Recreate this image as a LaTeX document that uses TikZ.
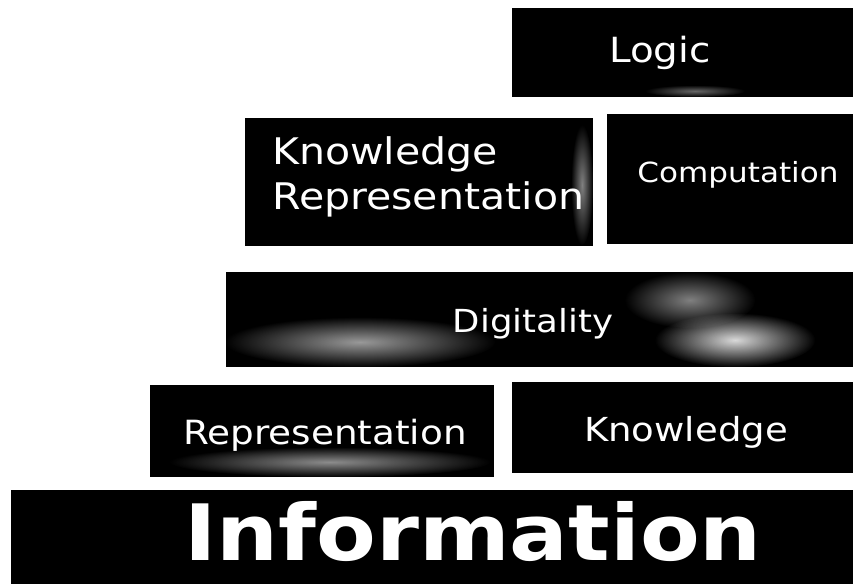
\documentclass[tikz,border=0pt]{standalone}
\usepackage{fontspec}
\setmainfont{DejaVu Sans}
\usepackage{graphicx}
\usetikzlibrary{fadings}
\tikzfading[name=haze, inner color=transparent!0, outer color=transparent!100]
\newcommand{\widen}[1]{\scalebox{1.12}[1]{#1}}
\begin{document}
\begin{tikzpicture}[x=0.75pt,y=-0.75pt,
    box/.style={fill=black},
    lbl/.style={text=white, inner sep=0pt, anchor=base},
    speck/.style={fill=white, path fading=haze}]
    \useasboundingbox[fill=white] (0,0) rectangle (853,584);

    % top row
    \fill[box] (512,8) rectangle (853,97);
    \fill[speck, opacity=0.4] (695,91) ellipse [x radius=50, y radius=6];
    \node[lbl, font=\fontsize{26}{31}\selectfont] (logic) at (660,63) {\widen{Logic}};

    % second row
    \fill[box] (245,118) rectangle (593,246);
    \fill[speck, opacity=0.5] (582,185) ellipse [x radius=11, y radius=60];
    \node[lbl, anchor=base west, font=\fontsize{27.5}{33.75}\selectfont] (knowrep) at (272,165)
        {\widen{\begin{tabular}[t]{@{}l@{}}Knowledge\\Representation\end{tabular}}};
    \fill[box] (607,114) rectangle (853,244);
    \node[lbl, font=\fontsize{20.8}{25}\selectfont] (comp) at (738,183) {\widen{Computation}};

    % third row
    \fill[box] (226,272) rectangle (853,367);
    \fill[speck, opacity=0.6] (360,342) ellipse [x radius=135, y radius=25];
    \fill[speck, opacity=0.5] (690,300) ellipse [x radius=65, y radius=28];
    \fill[speck, opacity=0.85] (735,340) ellipse [x radius=80, y radius=27];
    \node[lbl, font=\fontsize{23.8}{28}\selectfont] (digit) at (533,333) {\widen{Digitality}};

    % fourth row
    \fill[box] (150,385) rectangle (494,477);
    \fill[speck, opacity=0.55] (330,462) ellipse [x radius=160, y radius=15];
    \node[lbl, font=\fontsize{25}{30}\selectfont] (repr) at (325,445) {\widen{Representation}};
    \fill[box] (512,382) rectangle (853,473);
    \node[lbl, font=\fontsize{24.8}{30}\selectfont] (know) at (686,441) {\widen{Knowledge}};

    % base
    \fill[box] (11,490) rectangle (853,584);
    \node[lbl, font=\fontsize{58.3}{70}\selectfont\bfseries] (info) at (473,560) {\widen{Information}};
\end{tikzpicture}
\end{document}
